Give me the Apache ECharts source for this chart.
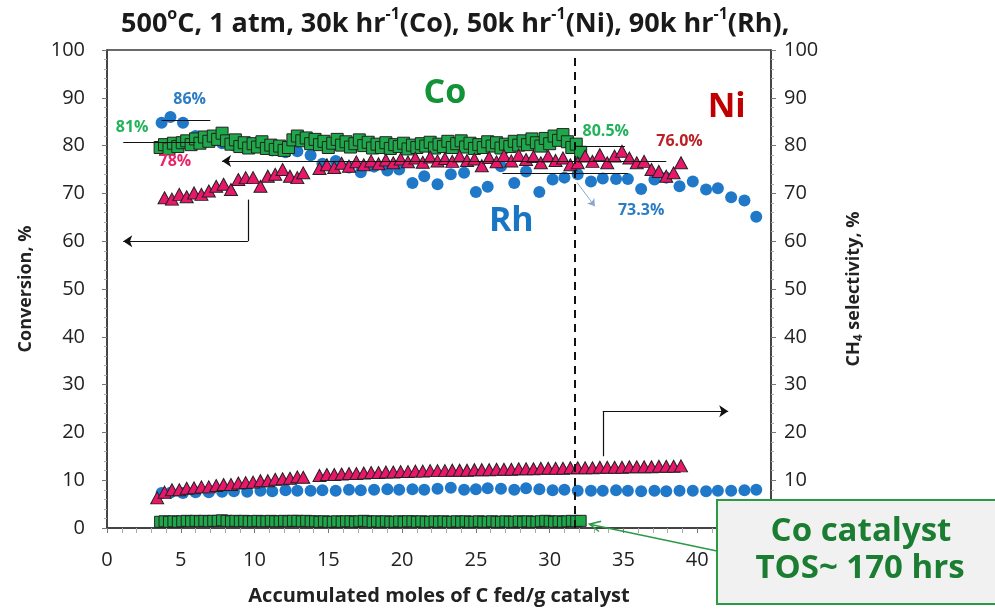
<!DOCTYPE html>
<html>
<head>
<meta charset="utf-8">
<script src="https://cdn.jsdelivr.net/npm/echarts@6/dist/echarts.min.js"></script>
<style>
html, body { margin: 0; padding: 0; background: #fff; }
#chart { width: 995px; height: 611px; }
</style>
</head>
<body>
<div id="chart"></div>
<script>
// accumulated moles of C fed per g catalyst (x) against conversion / CH4 selectivity (%)
const coX = [3.6, 3.9, 4.2, 4.5, 4.8, 5.1, 5.4, 5.7, 6.0, 6.3, 6.6, 6.9, 7.2, 7.5, 7.8, 8.1, 8.4, 8.7, 9.0, 9.3,
  9.6, 9.9, 10.2, 10.5, 10.8, 11.1, 11.4, 11.7, 12.0, 12.3, 12.6, 12.9, 13.2, 13.5, 13.8, 14.1, 14.4, 14.7, 15.0, 15.3,
  15.6, 15.9, 16.2, 16.5, 16.8, 17.1, 17.4, 17.7, 18.0, 18.3, 18.6, 18.9, 19.2, 19.5, 19.8, 20.1, 20.4, 20.7, 21.0, 21.3,
  21.6, 21.9, 22.2, 22.5, 22.8, 23.1, 23.4, 23.7, 24.0, 24.3, 24.6, 24.9, 25.2, 25.5, 25.8, 26.1, 26.4, 26.7, 27.0, 27.3,
  27.6, 27.9, 28.2, 28.5, 28.8, 29.1, 29.4, 29.7, 30.0, 30.3, 30.6, 30.9, 31.2, 31.5, 31.8, 32.1];
const coConversion = [79.6, 80.2, 79.3, 80.5, 79.8, 80.6, 81.0, 80.2, 81.4, 80.5, 81.8, 80.9, 82.0, 81.3, 82.6, 81.0, 80.3, 81.2, 79.8, 80.6,
  79.5, 80.4, 79.7, 80.8, 79.4, 80.1, 79.2, 79.9, 79.0, 79.6, 81.2, 82.0, 81.0, 81.6, 80.4, 81.3, 80.2, 80.9, 79.6, 80.5,
  81.3, 80.1, 80.8, 79.7, 80.4, 81.2, 80.0, 80.7, 79.5, 80.3, 79.6, 80.6, 79.4, 80.2, 79.8, 80.5, 79.3, 80.1, 79.6, 80.4,
  79.9, 80.7, 79.5, 80.3, 79.8, 80.9, 79.6, 80.4, 81.0, 79.7, 80.5, 79.4, 80.2, 79.6, 80.8, 79.9, 80.6, 79.5, 80.3, 79.8,
  80.9, 80.1, 81.0, 80.2, 81.4, 80.6, 79.9, 81.5, 80.4, 82.0, 81.1, 82.3, 80.8, 79.6, 80.3, 78.6];
const coSelectivity = [1.3, 1.4, 1.3, 1.4, 1.3, 1.4, 1.5, 1.4, 1.5, 1.4, 1.5, 1.4, 1.5, 1.5, 1.6, 1.5, 1.4, 1.5, 1.4, 1.5,
  1.4, 1.4, 1.5, 1.4, 1.4, 1.5, 1.4, 1.4, 1.5, 1.4, 1.5, 1.5, 1.4, 1.5, 1.4, 1.4, 1.3, 1.4, 1.3, 1.3,
  1.4, 1.3, 1.4, 1.4, 1.3, 1.4, 1.5, 1.4, 1.3, 1.4, 1.3, 1.4, 1.3, 1.3, 1.4, 1.3, 1.4, 1.4, 1.3, 1.4,
  1.3, 1.3, 1.4, 1.3, 1.4, 1.3, 1.3, 1.4, 1.3, 1.4, 1.3, 1.3, 1.4, 1.3, 1.3, 1.4, 1.3, 1.3, 1.4, 1.3,
  1.3, 1.4, 1.3, 1.4, 1.3, 1.3, 1.4, 1.5, 1.4, 1.3, 1.4, 1.3, 1.4, 1.5, 1.4, 1.5];

const niX = [3.4, 3.9, 4.4, 4.9, 5.4, 5.9, 6.4, 6.9, 7.4, 7.9, 8.4, 8.9, 9.4, 9.9, 10.4, 10.9, 11.4, 11.9, 12.4, 12.9, 13.3,
  14.4, 14.9, 15.4, 15.9, 16.4, 16.9, 17.4, 17.9, 18.4, 18.9, 19.4, 19.9, 20.4, 20.9, 21.4, 21.9, 22.4, 22.9, 23.4, 23.9,
  24.4, 24.9, 25.4, 25.9, 26.4, 26.9, 27.4, 27.9, 28.4, 28.9, 29.4, 29.9, 30.4, 30.9, 31.4, 31.9, 32.4, 32.9, 33.4, 33.9,
  34.4, 34.9, 35.4, 35.9, 36.4, 36.9, 37.4, 37.9, 38.4, 38.9];
const niConversion = [null, 69.1, 68.8, 69.8, 69.3, 70.1, 69.8, 70.5, 71.5, 71.9, 70.8, 72.9, 73.3, 73.3, 71.5, 73.6, 74.0, 75.0, 73.6, 73.3, 74.3,
  75.2, 76.0, 75.4, 76.3, 75.7, 76.6, 76.0, 76.8, 76.2, 77.0, 76.4, 77.2, 76.6, 77.4, 76.5, 77.6, 76.8, 77.3, 76.7, 77.8,
  76.9, 77.2, 75.8, 77.5, 76.6, 77.9, 76.8, 78.0, 77.1, 77.7, 76.4, 77.8, 76.9, 77.4, 76.0, 76.4, 77.8, 76.7, 78.1, 76.4,
  77.8, 78.8, 77.4, 76.4, 76.7, 75.0, 74.6, 73.6, 74.3, 76.4];
const niSelectivity = [6.3, 7.5, 8.0, 8.0, 8.3, 8.4, 8.6, 8.6, 8.9, 9.1, 9.1, 9.4, 9.5, 9.6, 9.9, 9.9, 10.2, 10.3, 10.4, 10.7, 10.6,
  11.0, 11.2, 11.2, 11.3, 11.4, 11.4, 11.5, 11.6, 11.6, 11.7, 11.7, 11.8, 11.8, 11.9, 11.9, 12.0, 12.0, 12.0, 12.1, 12.1,
  12.1, 12.2, 12.2, 12.2, 12.3, 12.3, 12.3, 12.4, 12.4, 12.4, 12.5, 12.5, 12.5, 12.5, 12.6, 12.6, 12.6, 12.6, 12.7, 12.7,
  12.7, 12.7, 12.8, 12.8, 12.8, 12.8, 12.9, 12.9, 12.9, 13.0];

const rhX = [3.7, 4.3, 5.15, 6.0, 6.9, 7.8, 8.6, 9.5, 10.4, 11.2, 12.1, 12.9, 13.8, 14.6, 15.5, 16.4, 17.2, 18.1, 19.0, 19.8,
  20.7, 21.5, 22.4, 23.3, 24.2, 25.0, 25.8, 26.7, 27.6, 28.4, 29.3, 30.2, 31.0, 31.9, 32.8, 33.6, 34.5, 35.3, 36.2, 37.1,
  37.9, 38.8, 39.7, 40.6, 41.4, 42.3, 43.2, 44.0];
const rhConversion = [84.8, 86.0, 84.8, 82.0, 81.2, 80.5, 80.0, 79.6, 79.8, 79.0, 78.6, 78.8, 78.0, 76.2, 76.8, 75.4, 74.4, 75.6, 74.8, 75.0,
  72.2, 73.6, 71.9, 74.0, 74.3, 70.3, 71.4, 75.7, 72.2, 74.6, 70.3, 72.9, 73.3, 74.0, 72.5, 73.1, 73.0, 73.0, 70.9, 72.9,
  73.3, 71.5, 72.5, 70.8, 71.1, 69.2, 68.5, 65.1];
const rhSelectivity = [7.3, 7.4, 7.3, 7.5, 7.5, 7.6, 7.7, 7.6, 7.8, 7.7, 7.9, 7.8, 7.8, 7.9, 7.8, 8.0, 7.9, 8.0, 8.1, 8.0,
  8.1, 8.0, 8.2, 8.4, 8.0, 8.1, 8.3, 8.2, 8.0, 8.3, 8.1, 7.9, 8.0, 7.8, 7.8, 7.8, 7.9, 7.8, 7.7, 7.8,
  7.7, 7.8, 7.8, 7.7, 7.8, 7.8, 7.9, 8.0];

// hand-drawn annotations on the original slide (data coords)
const refLines = [[[3.7, 85.2], [7.0, 85.2]], [[1.1, 80.6], [6.0, 80.6]], [[31.8, 79.9], [35.1, 79.9]], [[26.8, 74.2], [35.3, 74.2]]];
const niArrow = [[37.9, 76.8], [7.8, 76.8]];
const leftPointer = [[9.55, 68.7], [9.55, 60], [1.1, 60]];
const rightPointer = [[33.6, 15], [33.6, 24.4], [42.1, 24.4]];
const rhArrow = [[31.85, 72.3], [33.06, 67.3]];
const catalystSwitch = 31.7;
const coEndTip = [32.7, 0.8];

const notes = [
  { text: 'Co', at: [22.9, 91.0], size: 34, color: '#139237' },
  { text: 'Ni', at: [42.0, 88.1], size: 34, color: '#c00000' },
  { text: 'Rh', at: [27.4, 64.2], size: 34, color: '#1876c4' },
  { text: '86%', at: [5.6, 89.6], size: 16, color: '#2a7cc4' },
  { text: '81%', at: [1.7, 83.8], size: 16, color: '#22b35a' },
  { text: '78%', at: [4.6, 76.7], size: 16, color: '#ea2468' },
  { text: '80.5%', at: [33.8, 82.9], size: 16, color: '#22b35a' },
  { text: '76.0%', at: [38.8, 80.8], size: 16, color: '#bb2026' },
  { text: '73.3%', at: [36.2, 66.5], size: 16, color: '#2a7cc4' }
];

const font = 'Open Sans';
const pair = (xs, ys) => xs.map((x, i) => [x, ys[i]]).filter(p => p[1] != null);

const seg = (a, b, endSymbol) => [{ coord: a, symbol: 'none' }, { coord: b, symbol: endSymbol || 'none' }];

function yAxisCfg(pos, name) {
  return {
    type: 'value', position: pos, min: 0, max: 100, interval: 10,
    axisLine: { show: true, lineStyle: { color: '#3a3a3a', width: 1.5 } },
    axisTick: { show: true, length: 5, lineStyle: { color: '#777' } },
    minorTick: { show: true, splitNumber: 5, length: 3, lineStyle: { color: '#aaa' } },
    splitLine: { show: false },
    axisLabel: { fontSize: 20, color: '#222', fontFamily: font, margin: pos === 'left' ? 22 : 13 },
    name: name, nameLocation: 'middle', nameRotate: 90, nameGap: 72,
    nameTextStyle: {
      fontSize: 18, fontWeight: 'bold', color: '#222', fontFamily: font,
      rich: {
        b: { fontSize: 18, fontWeight: 'bold', color: '#222', fontFamily: font, lineHeight: 22, verticalAlign: 'middle' },
        s: { fontSize: 12, fontWeight: 'bold', color: '#222', fontFamily: font, lineHeight: 8, verticalAlign: 'bottom' }
      }
    }
  };
}

const markerBorder = { borderColor: '#222', borderWidth: 1 };

const chart = echarts.init(document.getElementById('chart'));
chart.setOption({
  animation: false,
  title: {
    text: '{b|500}{sup|o}{b|C, 1 atm, 30k hr}{sup|-1}{b|(Co), 50k hr}{sup|-1}{b|(Ni), 90k hr}{sup|-1}{b|(Rh),}',
    left: 116, top: 1,
    textStyle: {
      rich: {
        b: { fontSize: 27, fontWeight: 'bold', fontFamily: font, color: '#1a1a1a', lineHeight: 36 },
        sup: { fontSize: 16, fontWeight: 'bold', fontFamily: font, color: '#1a1a1a', verticalAlign: 'top', lineHeight: 22 }
      }
    }
  },
  grid: { left: 107, right: 224, top: 50, bottom: 81, show: true, borderColor: '#3a3a3a', borderWidth: 1.5, backgroundColor: 'transparent' },
  xAxis: {
    type: 'value', min: 0, max: 45, interval: 5,
    axisLine: { show: true, onZero: false, lineStyle: { color: '#3a3a3a', width: 1.5 } },
    axisTick: { show: true, length: 5, lineStyle: { color: '#777' } },
    minorTick: { show: true, splitNumber: 5, length: 5, lineStyle: { color: '#aaa' } },
    splitLine: { show: false },
    axisLabel: { fontSize: 20, color: '#222', fontFamily: font, margin: 22 },
    name: 'Accumulated moles of C fed/g catalyst', nameLocation: 'middle', nameGap: 58,
    nameTextStyle: { fontSize: 20, fontWeight: 'bold', color: '#222', fontFamily: font }
  },
  yAxis: [
    yAxisCfg('left', 'Conversion, %'),
    yAxisCfg('right', '{b|CH}{s|4}{b| selectivity, %}')
  ],
  series: [
    { name: 'Rh conversion', type: 'scatter', yAxisIndex: 0, symbol: 'circle', symbolSize: 12,
      itemStyle: { color: '#1f78c8', opacity: 1 }, data: pair(rhX, rhConversion) },
    { name: 'Rh selectivity', type: 'scatter', yAxisIndex: 1, symbol: 'circle', symbolSize: 12,
      itemStyle: { color: '#1f78c8', opacity: 1 }, data: pair(rhX, rhSelectivity) },
    { name: 'Co conversion', type: 'scatter', yAxisIndex: 0, symbol: 'rect', symbolSize: 12,
      itemStyle: Object.assign({ color: '#1ea84a', opacity: 1 }, markerBorder), data: pair(coX, coConversion) },
    { name: 'Co selectivity', type: 'scatter', yAxisIndex: 1, symbol: 'rect', symbolSize: 11,
      itemStyle: Object.assign({ color: '#1ea84a', opacity: 1 }, markerBorder), data: pair(coX, coSelectivity) },
    { name: 'Ni conversion', type: 'scatter', yAxisIndex: 0, symbol: 'triangle', symbolSize: [13, 12],
      itemStyle: Object.assign({ color: '#e8176a', opacity: 1 }, markerBorder), data: pair(niX, niConversion) },
    { name: 'Ni selectivity', type: 'scatter', yAxisIndex: 1, symbol: 'triangle', symbolSize: [13, 12],
      itemStyle: Object.assign({ color: '#e8176a', opacity: 1 }, markerBorder), data: pair(niX, niSelectivity) },
    {
      name: 'annotations', type: 'line', data: [], clip: false, silent: true, z: 1,
      markLine: {
        silent: true, animation: false, symbolSize: 9, label: { show: false },
        lineStyle: { color: '#111', width: 1.2, type: 'solid' },
        emphasis: { disabled: true },
        data: [
          ...refLines.map(l => seg(l[0], l[1])),
          seg(niArrow[0], niArrow[1], 'arrow'),
          seg(leftPointer[0], leftPointer[1]),
          seg(leftPointer[1], leftPointer[2], 'arrow'),
          seg(rightPointer[0], rightPointer[1]),
          seg(rightPointer[1], rightPointer[2], 'arrow'),
          seg([catalystSwitch, 0], [catalystSwitch, 98.5]).map((p, i) => i === 0 ? Object.assign(p, { lineStyle: { type: [8, 6], width: 2, color: '#111' } }) : p),
          seg(rhArrow[0], rhArrow[1], 'arrow').map((p, i) => i === 0 ? Object.assign(p, { lineStyle: { color: '#8aa6cc', width: 1 } }) : Object.assign(p, { symbolSize: 7 }))
        ]
      }
    },
    {
      name: 'notes', type: 'scatter', symbolSize: 1, silent: true, z: 5,
      itemStyle: { color: 'rgba(0,0,0,0)', opacity: 1 },
      data: notes.map(n => ({
        value: n.at,
        label: { show: true, position: 'inside', formatter: n.text, fontSize: n.size, fontWeight: 'bold', color: n.color, fontFamily: font, opacity: 1 }
      }))
    }
  ]
});

// green call-out box and arrow pointing at the end of the Co run
const tip = chart.convertToPixel({ gridIndex: 0 }, coEndTip);
const boxStart = [717, 551];
const ang = Math.atan2(boxStart[1] - tip[1], boxStart[0] - tip[0]);
const head = 12, spread = 0.45;
chart.setOption({
  graphic: [
    { type: 'line', z: 50, shape: { x1: boxStart[0], y1: boxStart[1], x2: tip[0], y2: tip[1] }, style: { stroke: '#2a9a44', lineWidth: 1.5 } },
    { type: 'polyline', z: 50, shape: { points: [
        [tip[0] + head * Math.cos(ang - spread), tip[1] + head * Math.sin(ang - spread)],
        tip,
        [tip[0] + head * Math.cos(ang + spread), tip[1] + head * Math.sin(ang + spread)]
      ] }, style: { stroke: '#2a9a44', lineWidth: 1.5, fill: null } },
    { type: 'rect', z: 60, shape: { x: 717, y: 500, width: 300, height: 104 },
      style: { fill: '#f1f1f1', stroke: '#2a9a44', lineWidth: 2 } },
    { type: 'text', z: 61, x: 861, y: 532, style: { text: 'Co catalyst', fontSize: 33, fontWeight: 'bold', fontFamily: font, fill: '#1b7d31', align: 'center', verticalAlign: 'middle' } },
    { type: 'text', z: 61, x: 860, y: 569, style: { text: 'TOS~ 170 hrs', fontSize: 33, fontWeight: 'bold', fontFamily: font, fill: '#1b7d31', align: 'center', verticalAlign: 'middle' } }
  ]
});
</script>
</body>
</html>
